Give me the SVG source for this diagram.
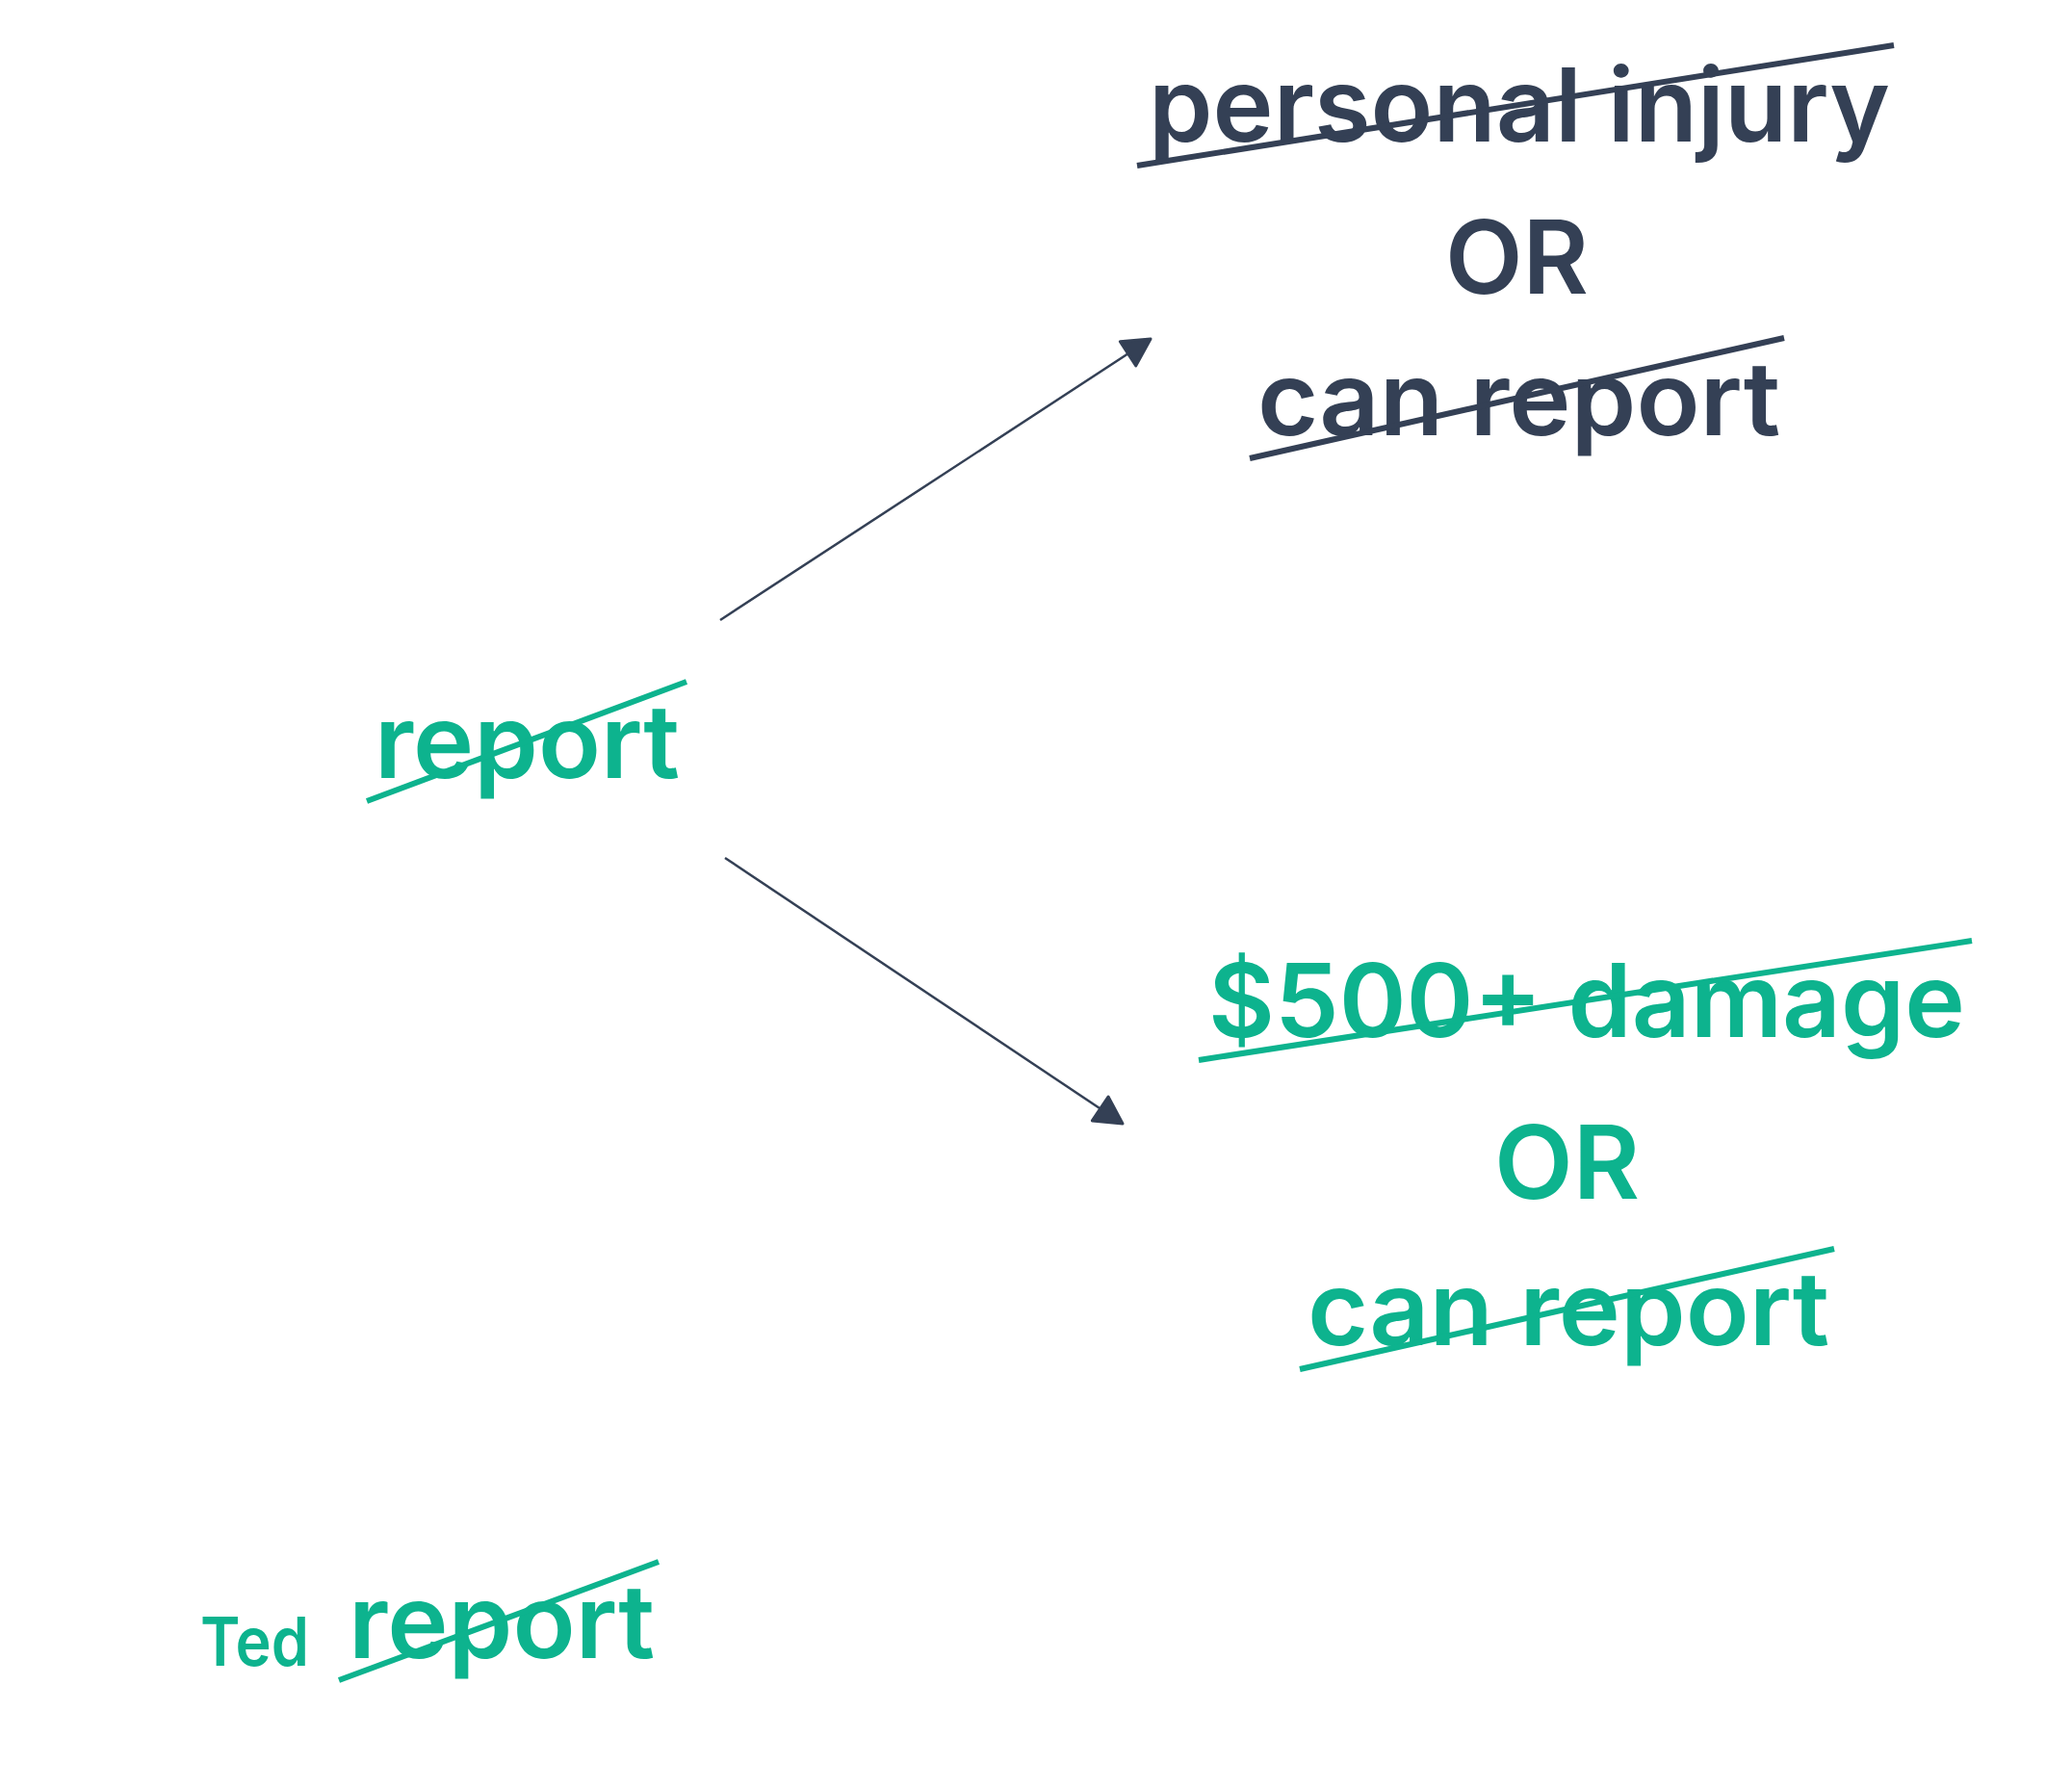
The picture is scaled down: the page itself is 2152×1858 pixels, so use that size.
<svg xmlns="http://www.w3.org/2000/svg" width="2152" height="1858" viewBox="0 0 2152 1858">
  <style>
    .t { font-family: Inter, "Liberation Sans", sans-serif; font-weight: 600; font-size: 106px; }
    .small { font-size: 70px; }
    .dark { fill: #344055; }
    .green { fill: #0DB38E; }
    .sd { stroke: #344055; stroke-width: 6; fill: none; }
    .sg { stroke: #0DB38E; stroke-width: 6; fill: none; }
    .conn { stroke: #344055; stroke-width: 2.5; fill: none; }
  </style>
  <defs>
    <marker id="arrow" viewBox="0 0 32 34" refX="30" refY="17" markerWidth="32" markerHeight="34" markerUnits="userSpaceOnUse" orient="auto">
      <path d="M2,2 L30,17 L2,32 Z" fill="#344055" stroke="#344055" stroke-width="3" stroke-linejoin="round"/>
    </marker>
  </defs>
  <rect width="2152" height="1858" fill="#ffffff"/>

  <g id="connectors">
    <line class="conn" x1="748" y1="644" x2="1195" y2="352" marker-end="url(#arrow)"/>
    <line class="conn" x1="753" y1="891" x2="1166" y2="1167" marker-end="url(#arrow)"/>
  </g>

  <g id="node-report">
    <text class="t green" x="389" y="808" textLength="317" lengthAdjust="spacingAndGlyphs">report</text>
    <line class="sg" x1="381" y1="832" x2="713" y2="708"/>
  </g>

  <g id="node-personal-injury">
    <text class="t dark" x="1193" y="147" textLength="770" lengthAdjust="spacingAndGlyphs">personal injury</text>
    <line class="sd" x1="1181" y1="172" x2="1967" y2="47"/>
    <text class="t dark" x="1501" y="305" textLength="149" lengthAdjust="spacingAndGlyphs">OR</text>
    <text class="t dark" x="1306" y="452" textLength="543" lengthAdjust="spacingAndGlyphs">can report</text>
    <line class="sd" x1="1298" y1="476" x2="1853" y2="351"/>
  </g>

  <g id="node-damage">
    <text class="t green" x="1255" y="1077" textLength="786" lengthAdjust="spacingAndGlyphs">$500+ damage</text>
    <line class="sg" x1="1245" y1="1101" x2="2048" y2="977"/>
    <text class="t green" x="1552" y="1245" textLength="151" lengthAdjust="spacingAndGlyphs">OR</text>
    <text class="t green" x="1358" y="1397" textLength="542" lengthAdjust="spacingAndGlyphs">can report</text>
    <line class="sg" x1="1350" y1="1422" x2="1905" y2="1297"/>
  </g>

  <g id="node-ted-report">
    <text class="t small green" x="208" y="1730" textLength="113" lengthAdjust="spacingAndGlyphs">Ted</text>
    <text class="t green" x="362" y="1722" textLength="318" lengthAdjust="spacingAndGlyphs">report</text>
    <line class="sg" x1="352" y1="1745" x2="684" y2="1622"/>
  </g>
</svg>
